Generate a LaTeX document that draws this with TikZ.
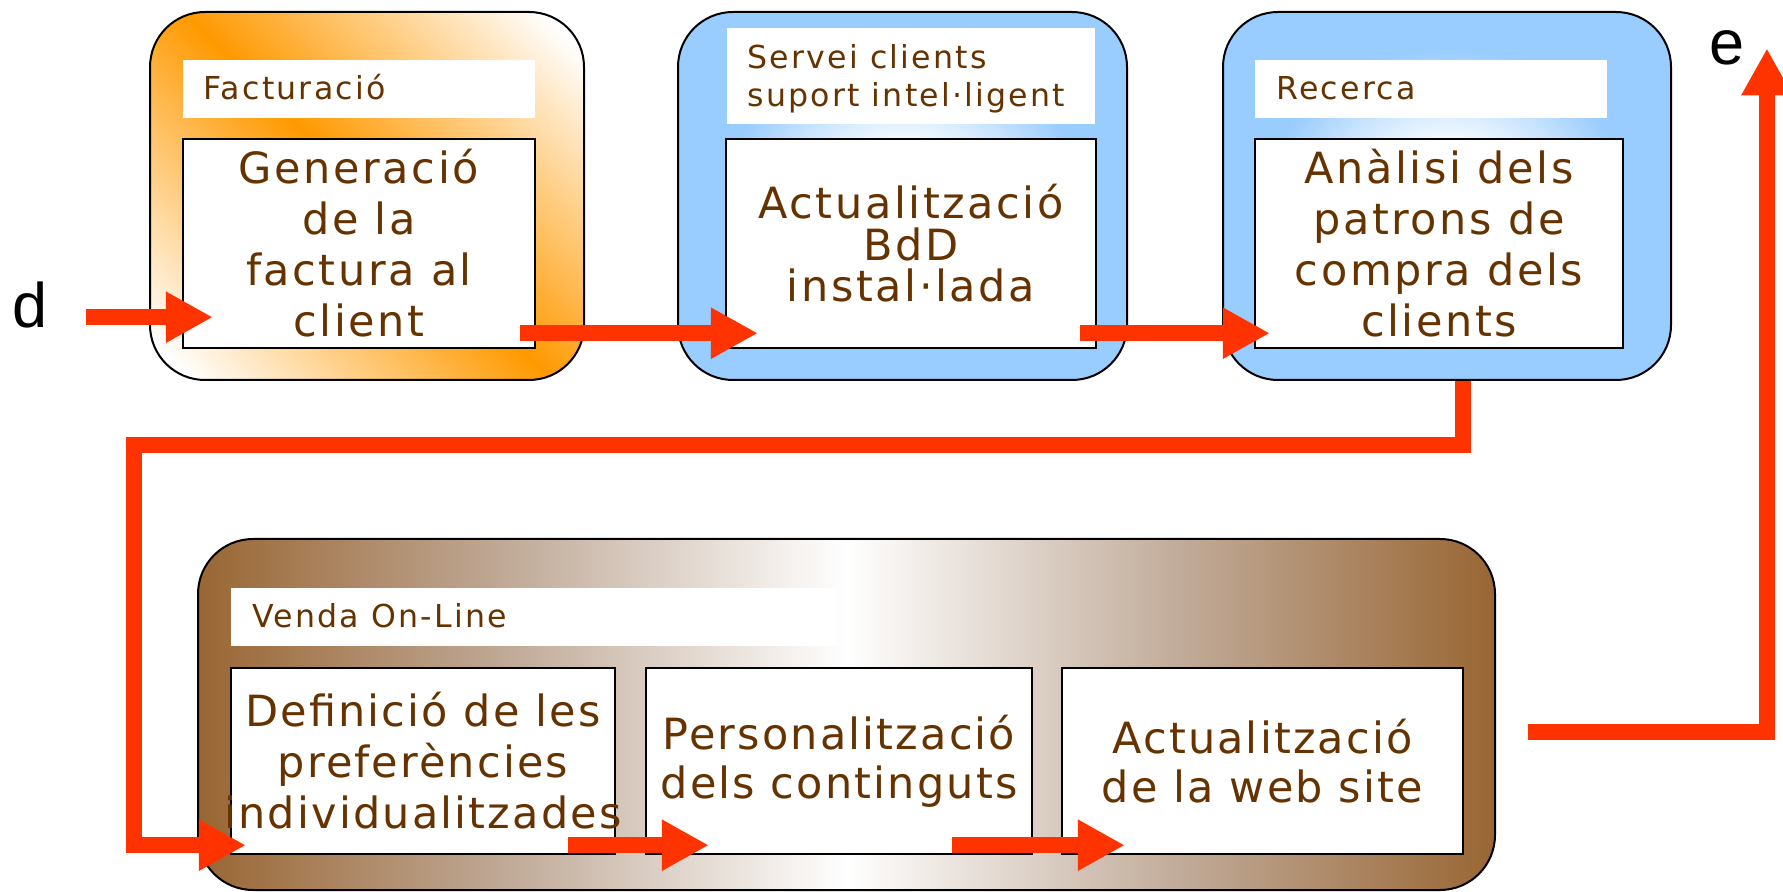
\documentclass[tikz,border=0pt]{standalone}
\usepackage{fontspec}
\usetikzlibrary{arrows.meta, calc}

\newfontfamily\labelfont[LetterSpace=7]{DejaVu Sans}
\newfontfamily\stepfont[LetterSpace=6]{DejaVu Sans}
\newfontfamily\lowfont[LetterSpace=5]{DejaVu Sans}
\newfontfamily\endfont{Liberation Sans}

\definecolor{txtbrown}{RGB}{102,51,0}
\definecolor{orfill}{RGB}{255,153,0}
\definecolor{bluefill}{RGB}{153,204,255}
\definecolor{brownfill}{RGB}{153,102,51}
\definecolor{brownmid}{RGB}{192,170,152}
\definecolor{flowred}{RGB}{255,51,0}

\pgfdeclareverticalshading{orband}{100bp}{color(0bp)=(white); color(18bp)=(white); color(50bp)=(orfill); color(82bp)=(white); color(100bp)=(white)}
\pgfdeclareradialshading{bluecore}{\pgfpoint{0bp}{0bp}}{color(0bp)=(white); color(6bp)=(white); color(20bp)=(bluefill); color(50bp)=(bluefill)}
\pgfdeclarehorizontalshading{brownband}{100bp}{color(0bp)=(brownfill); color(25bp)=(brownfill); color(37bp)=(brownmid); color(50bp)=(white); color(63bp)=(brownmid); color(75bp)=(brownfill); color(100bp)=(brownfill)}

\begin{document}
\begin{tikzpicture}[
        x=0.5pt, y=-0.5pt,
        panel/.style={draw, line width=1pt, rounded corners=27.5pt, inner sep=0pt, shade},
        band/.style={fill=white, inner sep=0pt},
        stepbox/.style={draw, fill=white, line width=1.2pt, inner sep=0pt, text=txtbrown, align=center},
        steptext/.style={text=txtbrown, align=center, inner sep=0pt},
        toptext/.style={font=\stepfont\fontsize{21.5}{25.5}\selectfont},
        lowtext/.style={font=\lowfont\fontsize{21.5}{25.5}\selectfont},
        labeltext/.style={text=txtbrown, inner sep=0pt, font=\labelfont\fontsize{15.8}{19}\selectfont},
        endtext/.style={inner sep=0pt, font=\endfont\fontsize{31.5}{31.5}\selectfont},
        flow/.style={draw=flowred, color=flowred, line width=8pt, -{Triangle[length=23.5pt, width=24pt]}}
    ]
        \useasboundingbox (0,0) rectangle (1783,892);

        % Upper row
        \node[panel, shading=orband, shading angle=-45, minimum width=217pt, minimum height=184pt] (fact) at (367,196) {};
        \node[panel, shading=bluecore, minimum width=224.5pt, minimum height=184pt] (serv) at (902.5,196) {};
        \node[panel, shading=bluecore, minimum width=224pt, minimum height=184pt] (rec) at (1447,196) {};

        \node[band, minimum width=176pt, minimum height=29pt] (factband) at (359,89) {};
        \node[band, minimum width=184pt, minimum height=48pt] (servband) at (911,76) {};
        \node[band, minimum width=176pt, minimum height=29pt] (recband) at (1431,89) {};

        \node[labeltext, anchor=base west] (factlbl) at (203,100) {Facturació};
        \node[labeltext, anchor=north west, align=left] (servlbl) at (747,44) {Servei clients\\suport intel·ligent};
        \node[labeltext, anchor=base west] (reclbl) at (1276,100) {Recerca};

        \node[stepbox, toptext, minimum width=176pt, minimum height=104.5pt] (gen) at (359,243.5) {Generació\\de la\\factura al\\client};
        \node[stepbox, font=\stepfont\fontsize{21.5}{20.75}\selectfont, minimum width=185pt, minimum height=104.5pt] (act) at (911,243.5) {Actualització\\BdD\\instal·lada};
        \node[stepbox, toptext, minimum width=184pt, minimum height=104.5pt] (anal) at (1439,243.5) {Anàlisi dels\\patrons de\\compra dels\\clients};

        % Lower row
        \node[panel, shading=brownband, minimum width=648.5pt, minimum height=175.5pt] (venda) at (846.5,714.5) {};
        \node[band, minimum width=302.5pt, minimum height=29pt] (vendaband) at (533.5,617) {};
        \node[labeltext, anchor=base west] (vendalbl) at (252,628) {Venda On-Line};

        \node[stepbox, minimum width=192pt, minimum height=93pt] (defi) at (423,761) {};
        \node[stepbox, minimum width=193pt, minimum height=93pt] (pers) at (839,761) {};
        \node[stepbox, minimum width=200.5pt, minimum height=93pt] (web) at (1262.5,761) {};
        \node[steptext, lowtext] (defitxt) at (defi) {Definició de les\\preferències\\individualitzades};
        \node[steptext, font=\lowfont\fontsize{21.5}{24.5}\selectfont] (perstxt) at (pers) {Personalització\\dels continguts};
        \node[steptext, font=\lowfont\fontsize{21.5}{24.5}\selectfont] (webtxt) at (web) {Actualització\\de la web site};

        % In and out
        \node[endtext, anchor=base] (d) at (30,328) {d};
        \node[endtext, anchor=base] (e) at (1727,65) {e};

        % Connectors
        \coordinate (din) at ($(gen.south west)+(31,-32)$);
        \draw[flow] ([xshift=19pt]d.east |- din) -- (din);
        \draw[flow] ([shift={(-16,-16)}]gen.south east) -- ([shift={(33,-16)}]act.south west);
        \draw[flow] ([shift={(-17,-16)}]act.south east) -- ([shift={(16,-16)}]anal.south west);
        \draw[flow] ([xshift=8pt]rec.south) |- ([shift={(-96,-410)}]defi.south west) |- ([shift={(16,-10)}]defi.south west);
        \draw[flow] ([shift={(-48,-10)}]defi.south east) -- ([shift={(64,-10)}]pers.south west);
        \draw[flow] ([shift={(-81,-10)}]pers.south east) -- ([shift={(64,-10)}]web.south west);
        \draw[flow] ([shift={(32,17.5)}]venda.east) -| ([xshift=11pt]e.east);
    \end{tikzpicture}
\end{document}
